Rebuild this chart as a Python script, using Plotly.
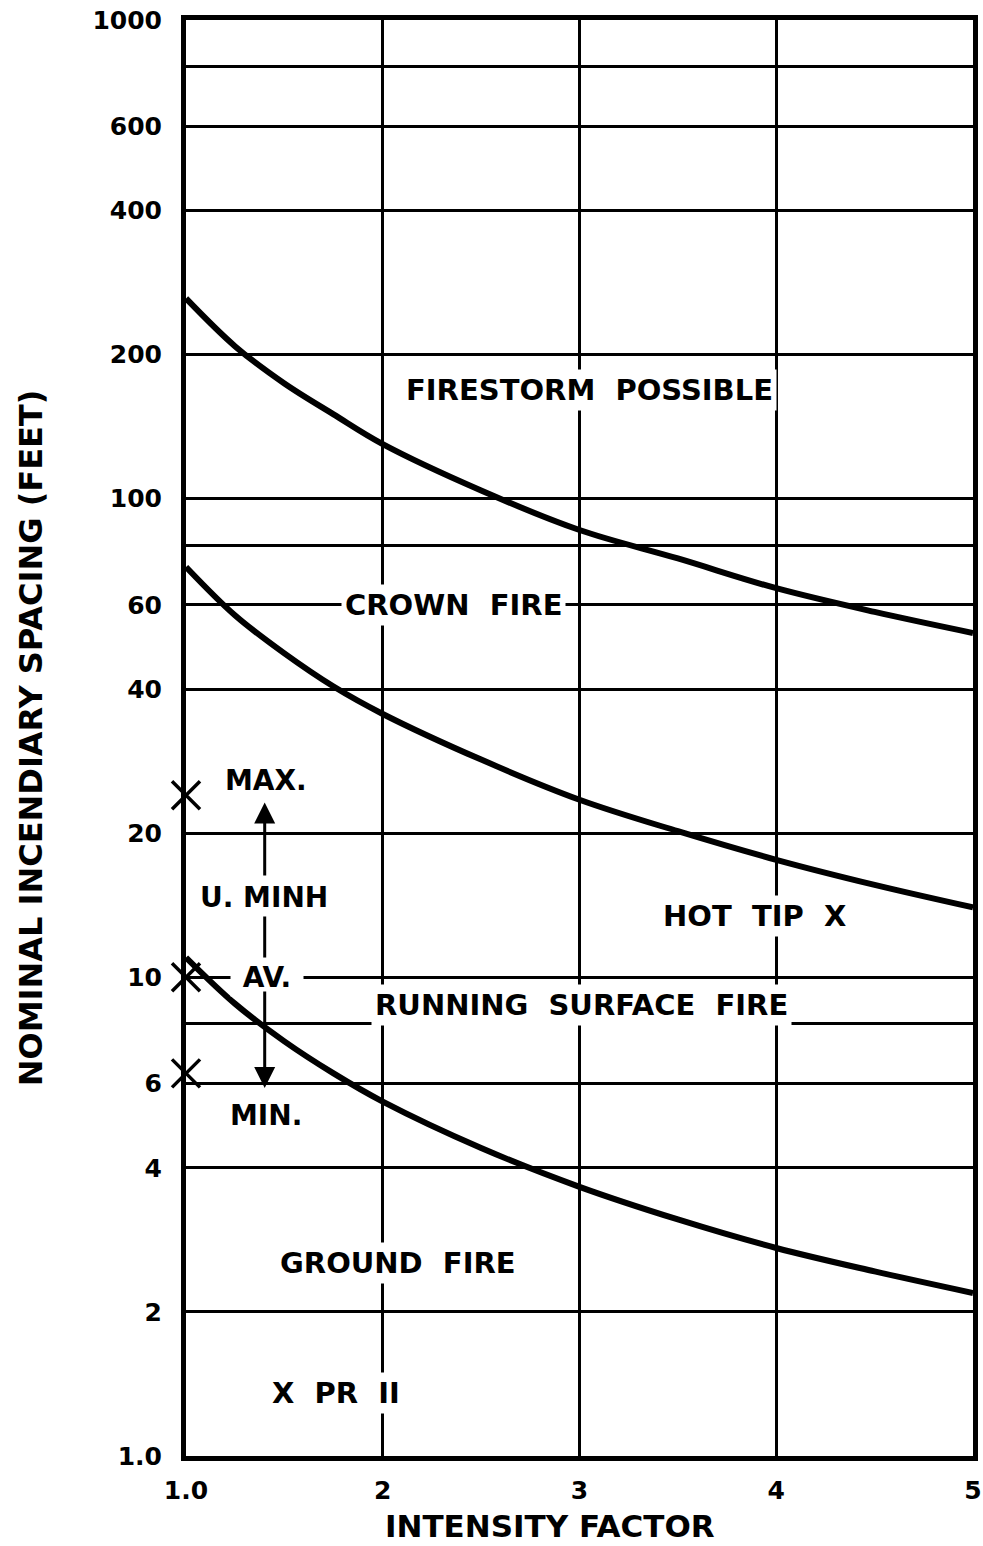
import math
import plotly.graph_objects as go

# ---------------- data ----------------
curve_x = [1.0, 1.25, 1.5, 1.75, 2.0, 2.5, 3.0, 3.5, 4.0, 4.5, 5.0]
firestorm_y = [262, 208, 174, 150, 130, 104, 86, 75, 65, 58, 52.4]
crown_y = [72, 57, 47.5, 40.5, 35.5, 28.5, 23.5, 20.2, 17.6, 15.6, 14.0]
surface_y = [11.0, 8.8, 7.35, 6.3, 5.5, 4.4, 3.65, 3.12, 2.72, 2.43, 2.19]

minh_x = [1.0, 1.0, 1.0]
minh_y = [24, 10, 6.3]          # MAX., AV., MIN. observations (U. MINH)

x_ticks = [1, 2, 3, 4, 5]
x_ticktext = ["1.0", "2", "3", "4", "5"]
y_ticks = [1, 2, 4, 6, 8, 10, 20, 40, 60, 80, 100, 200, 400, 600, 800, 1000]
y_ticktext = ["1.0", "2", "4", "6", "", "10", "20", "40", "60", "", "100", "200", "400", "600", "", "1000"]

region_labels = ["FIRESTORM \u00a0POSSIBLE", "CROWN \u00a0FIRE", "HOT \u00a0TIP \u00a0X",
                 "RUNNING \u00a0SURFACE \u00a0FIRE", "GROUND \u00a0FIRE", "X \u00a0PR \u00a0II"]
region_x = [3.05, 2.36, 3.89, 3.01, 2.08, 1.76]
region_y = [169, 60, 13.4, 8.75, 2.53, 1.354]

minh_labels = ["MAX.", "U. MINH", "\u00a0AV.\u00a0", "MIN."]
minh_lx = [1.408, 1.397, 1.413, 1.408]
minh_ly = [25.8, 14.7, 10.0, 5.15]

arrow_x = 1.4
arrow_up = (16.2, 23.2)      # tail, tip (feet)
arrow_down = (9.41, 5.87)    # tail, tip (feet)
dash_seg = (13.4, 11.0)

FONT = "DejaVu Sans"

fig = go.Figure()
for ys in [firestorm_y, crown_y, surface_y]:
    fig.add_trace(go.Scatter(x=curve_x, y=ys, mode="lines",
                             line=dict(color="black", width=6, shape="spline", smoothing=1.0),
                             showlegend=False, hoverinfo="skip"))

fig.add_trace(go.Scatter(x=[arrow_x, arrow_x], y=list(dash_seg), mode="lines",
                         line=dict(color="black", width=3), showlegend=False, hoverinfo="skip"))

fig.add_trace(go.Scatter(x=minh_x, y=minh_y, mode="markers", cliponaxis=False,
                         marker=dict(symbol="x-thin", size=28, line=dict(width=3.5, color="black")),
                         showlegend=False, hoverinfo="skip"))

annotations = []
for t, x, y in zip(region_labels, region_x, region_y):
    annotations.append(dict(x=x, y=math.log10(y), xref="x", yref="y", text=t, showarrow=False,
                            font=dict(family=FONT, size=29, color="black", weight="bold"),
                            bgcolor="white", borderpad=3))
for t, x, y in zip(minh_labels, minh_lx, minh_ly):
    annotations.append(dict(x=x, y=math.log10(y), xref="x", yref="y", text=t, showarrow=False,
                            font=dict(family=FONT, size=28, color="black", weight="bold"),
                            bgcolor="white" if "AV." in t else "rgba(0,0,0,0)", borderpad=2))
for tail, tip in [arrow_up, arrow_down]:
    annotations.append(dict(x=arrow_x, y=math.log10(tip), ax=arrow_x, ay=math.log10(tail),
                            xref="x", yref="y", axref="x", ayref="y", text="",
                            showarrow=True, arrowhead=2, arrowsize=1.4, arrowwidth=3,
                            arrowcolor="black"))
annotations.append(dict(x=0.462, y=-0.049, xref="paper", yref="paper", text="INTENSITY FACTOR",
                        showarrow=False, xanchor="center", yanchor="middle",
                        font=dict(family=FONT, size=31, color="black", weight="bold")))

axis_common = dict(showgrid=True, gridcolor="black", gridwidth=3, showline=True, linecolor="black",
                   linewidth=5, mirror=True, ticks="", zeroline=False, ticklabeloverflow="allow",
                   tickfont=dict(family=FONT, size=25, color="black", weight="bold"))

fig.update_layout(
    width=983, height=1546,
    margin=dict(l=186, r=1, t=20, b=90),
    paper_bgcolor="white", plot_bgcolor="white",
    font=dict(family=FONT, color="black", weight="bold"),
    xaxis=dict(range=[1, 5], tickmode="array", tickvals=x_ticks, ticktext=x_ticktext,
               ticklabelstandoff=8, **axis_common),
    yaxis=dict(type="log", range=[0, 3], tickmode="array", tickvals=y_ticks, ticktext=y_ticktext,
               ticklabelstandoff=14,
               title=dict(text="NOMINAL INCENDIARY SPACING (FEET)", standoff=42,
                          font=dict(family=FONT, size=32, color="black", weight="bold")),
               **axis_common),
    annotations=annotations,
)

fig.write_html("out.html", config={"displayModeBar": False},
               post_script="document.body.style.margin='0';document.body.style.overflow='hidden';")
